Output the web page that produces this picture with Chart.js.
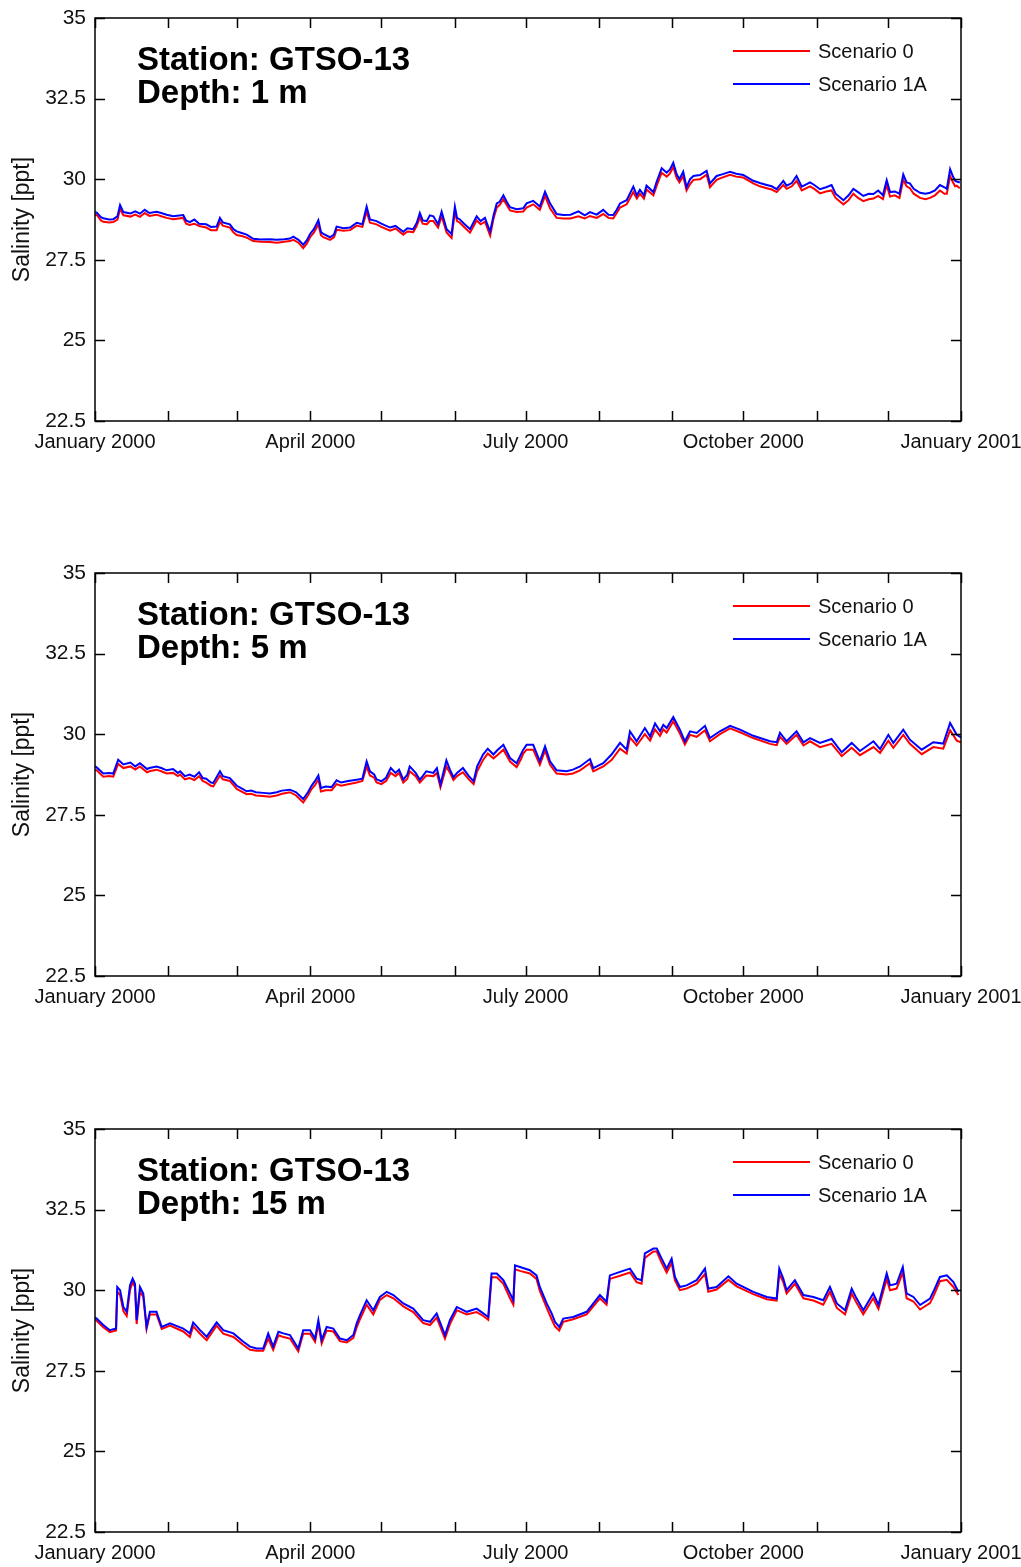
<!DOCTYPE html>
<html>
<head>
<meta charset="utf-8">
<script src="https://cdn.jsdelivr.net/npm/chart.js@4.4.1/dist/chart.umd.min.js"></script>
<style>
  body { margin: 0; background: #fff; }
  canvas.panel { position: absolute; left: 0; }
</style>
</head>
<body>
<canvas id="p1" class="panel" width="1021" height="555" style="top:0px"></canvas>
<canvas id="p2" class="panel" width="1021" height="555" style="top:555px"></canvas>
<canvas id="p3" class="panel" width="1021" height="456" style="top:1111px"></canvas>
<script>
// day of year 2000 (0 = Jan 1) and salinity [ppt]

// --- Depth 1 m ---
const days1m = [0, 0.7, 2.5, 3.5, 6, 7.7, 9.5, 10.6, 12, 15, 17, 19, 21, 23, 26, 28, 30.3, 33, 37.3, 38.5,
  40, 42, 44, 47, 49, 51.4, 52.8, 54, 57, 58.5, 59.9, 62, 64.1, 66.9, 70, 73.9, 76.8, 80, 82.4, 83.8,
  86, 88, 89.5, 90.9, 92.5, 94.4, 95.5, 96.5, 99.3, 101, 102.1, 105, 107.8, 110.6, 113, 114.8, 116.2, 119, 121, 124.7,
  127, 130.3, 132, 134.5, 136, 137.3, 138.5, 140.2, 141.5, 143, 145, 146.5, 148.6, 150.7, 152.1, 153, 154.2, 156, 158.5, 161.3,
  163, 164.8, 167, 168.5, 169.8, 171, 172.6, 174, 175.4, 178.2, 181, 182.4, 185.2, 188, 190.2, 192.3, 195.1, 197.9, 201, 204.3,
  207, 209.2, 212, 214.8, 217, 219, 220.5, 221.9, 224.7, 227.5, 229, 230.3, 232, 233.1, 236, 237.4, 239.5, 241.6, 243, 244.4,
  245.8, 247, 248.6, 250, 251.5, 252.9, 255.7, 258.5, 259.9, 262.7, 265, 268.4, 271, 274, 278.2, 281, 283.9, 286, 288.1, 290.9,
  292.3, 294.5, 296.5, 298.7, 302.2, 304, 306.4, 309, 311.3, 313, 316.3, 318.5, 320.5, 322.5, 324.7, 327, 329, 331, 333, 334.6,
  336, 338, 340, 341.6, 343, 344.4, 346, 348.7, 351, 352.9, 355, 357.1, 359, 360, 361.4, 362.5, 363.5, 364.2, 365.5];
const s0_1m = [28.88, 28.9, 28.72, 28.68, 28.66, 28.67, 28.75, 29.08, 28.88, 28.84, 28.9, 28.83, 28.95, 28.86, 28.9, 28.85, 28.8, 28.76, 28.8, 28.62,
  28.58, 28.62, 28.55, 28.5, 28.42, 28.42, 28.68, 28.56, 28.5, 28.35, 28.27, 28.24, 28.19, 28.08, 28.06, 28.05, 28.03, 28.06, 28.08, 28.12,
  28.03, 27.86, 28.0, 28.2, 28.34, 28.6, 28.26, 28.2, 28.12, 28.2, 28.43, 28.4, 28.42, 28.56, 28.52, 29.0, 28.65, 28.6, 28.52, 28.4,
  28.47, 28.28, 28.38, 28.36, 28.55, 28.82, 28.62, 28.6, 28.7, 28.7, 28.5, 28.85, 28.35, 28.18, 29.0, 28.7, 28.65, 28.52, 28.34, 28.72,
  28.6, 28.68, 28.25, 28.8, 29.12, 29.2, 29.38, 29.2, 29.03, 28.98, 29.0, 29.12, 29.22, 29.05, 29.48, 29.1, 28.8, 28.78, 28.78, 28.85,
  28.78, 28.86, 28.8, 28.92, 28.8, 28.78, 28.95, 29.12, 29.22, 29.6, 29.4, 29.55, 29.4, 29.68, 29.5, 29.8, 30.2, 30.08, 30.18, 30.38,
  30.04, 29.9, 30.1, 29.65, 29.85, 29.98, 30.0, 30.14, 29.75, 29.98, 30.05, 30.14, 30.08, 30.05, 29.87, 29.78, 29.72, 29.68, 29.6, 29.82,
  29.7, 29.78, 29.95, 29.65, 29.78, 29.7, 29.56, 29.62, 29.65, 29.42, 29.22, 29.35, 29.55, 29.42, 29.32, 29.38, 29.4, 29.48, 29.38, 29.82,
  29.46, 29.5, 29.42, 29.98, 29.78, 29.72, 29.55, 29.42, 29.38, 29.42, 29.5, 29.65, 29.55, 29.55, 30.1, 29.92, 29.78, 29.8, 29.72];
const s1a_1m = [28.97, 28.97, 28.82, 28.79, 28.75, 28.76, 28.85, 29.2, 28.98, 28.94, 29.0, 28.93, 29.05, 28.95, 28.99, 28.95, 28.9, 28.85, 28.89, 28.72,
  28.67, 28.75, 28.62, 28.6, 28.52, 28.53, 28.8, 28.66, 28.6, 28.45, 28.38, 28.33, 28.28, 28.15, 28.13, 28.14, 28.12, 28.14, 28.16, 28.22,
  28.12, 27.97, 28.1, 28.3, 28.45, 28.73, 28.36, 28.3, 28.2, 28.28, 28.53, 28.48, 28.5, 28.65, 28.6, 29.15, 28.75, 28.7, 28.62, 28.5,
  28.55, 28.37, 28.48, 28.45, 28.65, 28.95, 28.72, 28.7, 28.88, 28.85, 28.6, 28.99, 28.45, 28.3, 29.15, 28.8, 28.75, 28.62, 28.45, 28.85,
  28.7, 28.8, 28.37, 28.9, 29.25, 29.3, 29.5, 29.3, 29.13, 29.07, 29.1, 29.25, 29.33, 29.15, 29.61, 29.25, 28.92, 28.89, 28.9, 29.0,
  28.88, 28.98, 28.9, 29.05, 28.9, 28.89, 29.05, 29.25, 29.35, 29.77, 29.5, 29.67, 29.5, 29.8, 29.6, 29.93, 30.34, 30.2, 30.3, 30.51,
  30.16, 30.0, 30.23, 29.75, 30.0, 30.1, 30.13, 30.26, 29.87, 30.1, 30.15, 30.23, 30.17, 30.13, 29.95, 29.88, 29.82, 29.78, 29.69, 29.95,
  29.8, 29.88, 30.1, 29.77, 29.9, 29.82, 29.69, 29.75, 29.82, 29.55, 29.35, 29.5, 29.7, 29.6, 29.48, 29.55, 29.54, 29.65, 29.5, 29.97,
  29.6, 29.62, 29.55, 30.15, 29.9, 29.87, 29.7, 29.58, 29.55, 29.58, 29.65, 29.82, 29.75, 29.7, 30.31, 30.1, 29.95, 29.93, 29.9];

// --- Depth 5 m ---
const days5m = [0, 0.7, 3.5, 6, 7.7, 9.8, 12, 15, 17, 19, 22, 23, 26, 28, 30.3, 33, 35, 36, 38, 40,
  42, 44, 45.5, 47, 49, 50, 52.8, 54, 57, 59.9, 61, 64.1, 66, 68, 71, 73.9, 76.8, 79, 82.4, 85,
  88, 90, 91.5, 93, 94.4, 95.5, 97.5, 100, 102.1, 104, 107, 110.6, 113, 114.8, 116.2, 118, 119, 121, 123, 125,
  127, 128.5, 130.3, 132, 133, 135.5, 137.3, 138.5, 140, 143, 144.5, 146, 148.5, 150, 151.5, 153, 155.5, 158, 160, 161.5,
  164, 166, 168.4, 170, 172.6, 175.4, 178.2, 180, 181, 182.4, 185.2, 188, 190.2, 192.3, 195.1, 199.3, 202, 205, 209.2, 210.6,
  214.8, 218.3, 221.9, 224.7, 226.1, 228.9, 232.4, 234.6, 236.7, 238.8, 240.2, 241.6, 244.4, 247.2, 249.3, 251.5, 254.3, 257.8, 259.9, 264.1,
  268.4, 272.6, 278.2, 285.3, 288.1, 289.5, 292.3, 296.5, 299.4, 302.2, 306.4, 311.3, 315.6, 319.8, 323.3, 329, 331.8, 335.3, 337.4, 341.6,
  344.4, 349.4, 354.3, 358.5, 361.4, 364.2, 366];
const s0_5m = [28.9, 28.88, 28.68, 28.7, 28.68, 29.08, 28.95, 29.0, 28.9, 29.0, 28.82, 28.85, 28.9, 28.85, 28.78, 28.8, 28.7, 28.75, 28.6, 28.64,
  28.58, 28.7, 28.55, 28.5, 28.4, 28.38, 28.72, 28.6, 28.55, 28.3, 28.26, 28.14, 28.15, 28.1, 28.08, 28.06, 28.1, 28.15, 28.2, 28.1,
  27.88, 28.1, 28.3, 28.42, 28.6, 28.22, 28.26, 28.26, 28.45, 28.4, 28.45, 28.5, 28.55, 29.0, 28.72, 28.65, 28.5, 28.45, 28.55, 28.8,
  28.7, 28.8, 28.5, 28.62, 28.85, 28.7, 28.5, 28.6, 28.72, 28.7, 28.8, 28.35, 29.0, 28.8, 28.58, 28.7, 28.82, 28.6, 28.45, 28.85,
  29.2, 29.4, 29.25, 29.35, 29.52, 29.15, 28.98, 29.22, 29.4, 29.52, 29.52, 29.05, 29.5, 29.05, 28.78, 28.75, 28.78, 28.88, 29.1, 28.85,
  29.0, 29.2, 29.55, 29.4, 29.9, 29.65, 30.0, 29.8, 30.15, 29.95, 30.15, 30.05, 30.4, 30.02, 29.68, 29.98, 29.92, 30.12, 29.78, 30.0,
  30.18, 30.06, 29.88, 29.7, 29.66, 29.92, 29.7, 29.98, 29.65, 29.78, 29.6, 29.7, 29.32, 29.58, 29.35, 29.6, 29.42, 29.8, 29.58, 29.98,
  29.7, 29.38, 29.6, 29.55, 30.12, 29.8, 29.75];
const s1a_5m = [29.0, 28.97, 28.78, 28.8, 28.78, 29.21, 29.06, 29.12, 29.0, 29.1, 28.92, 28.95, 29.0, 28.95, 28.88, 28.92, 28.8, 28.85, 28.7, 28.75,
  28.68, 28.82, 28.64, 28.62, 28.5, 28.49, 28.85, 28.7, 28.64, 28.4, 28.36, 28.23, 28.25, 28.2, 28.18, 28.16, 28.2, 28.25, 28.28, 28.2,
  27.99, 28.2, 28.4, 28.55, 28.72, 28.33, 28.38, 28.36, 28.57, 28.5, 28.55, 28.59, 28.62, 29.16, 28.85, 28.75, 28.6, 28.54, 28.65, 28.95,
  28.8, 28.9, 28.59, 28.75, 29.0, 28.8, 28.59, 28.7, 28.85, 28.8, 28.95, 28.44, 29.19, 28.9, 28.67, 28.8, 28.95, 28.7, 28.54, 29.0,
  29.37, 29.55, 29.37, 29.5, 29.67, 29.26, 29.1, 29.37, 29.52, 29.67, 29.67, 29.16, 29.62, 29.16, 28.88, 28.85, 28.9, 29.0, 29.23, 28.95,
  29.1, 29.37, 29.73, 29.52, 30.09, 29.78, 30.19, 29.93, 30.33, 30.09, 30.29, 30.19, 30.53, 30.14, 29.78, 30.09, 30.04, 30.26, 29.88, 30.09,
  30.26, 30.14, 29.95, 29.78, 29.75, 30.04, 29.78, 30.09, 29.75, 29.88, 29.73, 29.85, 29.44, 29.73, 29.48, 29.78, 29.54, 29.98, 29.73, 30.14,
  29.83, 29.52, 29.75, 29.71, 30.35, 29.98, 29.9];

// --- Depth 15 m ---
const days15m = [0, 0.7, 3.5, 6.3, 8.9, 9.4, 10.6, 12, 13.4, 14.8, 15.9, 16.9, 17.6, 19, 20.4, 21.8, 23.2, 26, 28.2, 31.7,
  37.3, 40.1, 41.5, 44.4, 47.2, 51.4, 54.2, 58.5, 62.7, 65.5, 68.3, 71.1, 73.2, 75.3, 77.5, 79.6, 82.4, 85.9, 88, 90.9,
  93, 94.4, 95.8, 97.9, 100.7, 103.5, 106.4, 109.2, 110.6, 112, 114.8, 117.6, 120.4, 123.3, 126.1, 130.3, 134.5, 138.7, 141.6, 144.4,
  147.9, 150, 152.9, 157.1, 161.3, 164.1, 166.2, 167.6, 169.8, 172.6, 175.4, 176.8, 177.5, 179.6, 183.8, 186.6, 188, 190.9, 193, 194.4,
  196.2, 197.9, 202.1, 207.8, 213.4, 216.2, 217.6, 221.9, 226.1, 228.9, 231, 232.4, 236, 237.4, 239.5, 241.6, 243.7, 245.1, 247.2, 250,
  254.3, 257.8, 259.2, 262.7, 267.7, 271.2, 278.2, 283.9, 288.1, 289.2, 290.9, 292.3, 295.8, 299.4, 303.6, 307.8, 310.6, 313.5, 317, 319.8,
  321.9, 324.7, 328.9, 331.1, 334.6, 336, 338.8, 341.4, 343, 345.9, 348.7, 352.9, 354.3, 357.1, 360, 362.8, 364.9];
const s0_15m = [29.1, 29.05, 28.85, 28.7, 28.75, 29.95, 29.85, 29.35, 29.2, 30.0, 30.25, 30.1, 28.95, 29.95, 29.8, 28.8, 29.25, 29.25, 28.8, 28.9,
  28.72, 28.55, 28.88, 28.65, 28.45, 28.9, 28.65, 28.55, 28.3, 28.15, 28.12, 28.12, 28.5, 28.15, 28.6, 28.55, 28.5, 28.1, 28.65, 28.65,
  28.4, 28.95, 28.35, 28.75, 28.72, 28.42, 28.38, 28.52, 28.85, 29.1, 29.55, 29.25, 29.7, 29.85, 29.75, 29.5, 29.32, 28.98, 28.92, 29.15,
  28.5, 28.95, 29.38, 29.25, 29.32, 29.2, 29.08, 30.4, 30.4, 30.2, 29.75, 29.55, 30.65, 30.6, 30.52, 30.35, 29.98, 29.45, 29.1, 28.88,
  28.75, 29.02, 29.1, 29.25, 29.75, 29.55, 30.35, 30.45, 30.55, 30.25, 30.2, 31.0, 31.2, 31.2, 30.85, 30.55, 30.85, 30.3, 30.0, 30.05,
  30.2, 30.5, 29.95, 30.02, 30.32, 30.12, 29.88, 29.72, 29.68, 30.5, 30.25, 29.9, 30.2, 29.75, 29.68, 29.55, 29.95, 29.45, 29.25, 29.9,
  29.6, 29.25, 29.75, 29.42, 30.35, 30.0, 30.05, 30.55, 29.75, 29.65, 29.4, 29.6, 29.8, 30.28, 30.32, 30.1, 29.85];
const s1a_15m = [29.15, 29.12, 28.92, 28.76, 28.81, 30.1, 30.0, 29.48, 29.33, 30.15, 30.36, 30.2, 29.07, 30.1, 29.9, 28.86, 29.33, 29.33, 28.86, 28.97,
  28.81, 28.66, 29.0, 28.76, 28.56, 29.0, 28.76, 28.66, 28.4, 28.25, 28.19, 28.19, 28.66, 28.25, 28.71, 28.66, 28.61, 28.19, 28.76, 28.76,
  28.5, 29.07, 28.45, 28.86, 28.81, 28.5, 28.45, 28.61, 28.97, 29.23, 29.69, 29.38, 29.79, 29.95, 29.85, 29.59, 29.43, 29.07, 29.02, 29.28,
  28.61, 29.07, 29.48, 29.33, 29.43, 29.28, 29.17, 30.52, 30.52, 30.31, 29.9, 29.69, 30.77, 30.72, 30.62, 30.46, 30.1, 29.59, 29.28, 29.02,
  28.86, 29.12, 29.17, 29.33, 29.85, 29.64, 30.46, 30.57, 30.67, 30.36, 30.31, 31.14, 31.29, 31.29, 30.98, 30.67, 30.98, 30.41, 30.1, 30.15,
  30.31, 30.67, 30.05, 30.1, 30.43, 30.2, 29.95, 29.79, 29.74, 30.67, 30.36, 30.0, 30.31, 29.85, 29.79, 29.69, 30.1, 29.59, 29.38, 30.05,
  29.74, 29.38, 29.9, 29.54, 30.52, 30.15, 30.2, 30.72, 29.9, 29.79, 29.54, 29.74, 29.95, 30.41, 30.46, 30.25, 29.95];

// axis ticks
const monthStarts = [0, 31, 60, 91, 121, 152, 182, 213, 244, 274, 305, 335, 366];
const monthNames = { 0: 'January 2000', 91: 'April 2000', 182: 'July 2000', 274: 'October 2000', 366: 'January 2001' };
const yTicks = [22.5, 25, 27.5, 30, 32.5, 35];

const FONT = '"Liberation Sans", Arial, sans-serif';

// frame with inward ticks on all four sides, the station text and the legend
const framePlugin = {
  id: 'frame',
  afterDatasetsDraw(chart, args, opts) {
    const ctx = chart.ctx;
    const a = chart.chartArea;
    const x = chart.scales.x, y = chart.scales.y;
    ctx.save();
    ctx.strokeStyle = '#000';
    ctx.lineWidth = 1.5;
    ctx.strokeRect(a.left, a.top, a.right - a.left, a.bottom - a.top);
    ctx.beginPath();
    monthStarts.forEach(d => {
      const px = Math.round(x.getPixelForValue(d)) + 0.5;
      ctx.moveTo(px, a.bottom); ctx.lineTo(px, a.bottom - 10);
      ctx.moveTo(px, a.top); ctx.lineTo(px, a.top + 10);
    });
    yTicks.forEach(v => {
      const py = Math.round(y.getPixelForValue(v)) + 0.5;
      ctx.moveTo(a.left, py); ctx.lineTo(a.left + 10, py);
      ctx.moveTo(a.right, py); ctx.lineTo(a.right - 10, py);
    });
    ctx.stroke();

    ctx.fillStyle = '#000';
    ctx.font = 'bold 33px ' + FONT;
    ctx.textAlign = 'left';
    ctx.textBaseline = 'alphabetic';
    ctx.fillText(opts.station, 137, 70);
    ctx.fillText(opts.depth, 137, 103);

    ctx.font = '20px ' + FONT;
    ctx.textBaseline = 'middle';
    chart.data.datasets.forEach((ds, i) => {
      const ly = 51 + i * 33;
      ctx.strokeStyle = ds.borderColor;
      ctx.lineWidth = 2;
      ctx.beginPath();
      ctx.moveTo(733, ly); ctx.lineTo(810, ly);
      ctx.stroke();
      ctx.fillStyle = '#111';
      ctx.fillText(ds.label, 818, ly + 1);
    });
    ctx.restore();
  }
};

function pts(days, vals) {
  return days.map((d, i) => ({ x: d, y: vals[i] }));
}

function makeChart(id, days, s0, s1a, depthText) {
  new Chart(document.getElementById(id), {
    type: 'line',
    data: {
      datasets: [
        { label: 'Scenario 0', data: pts(days, s0), borderColor: '#ff0000', borderWidth: 2, pointRadius: 0, order: 2 },
        { label: 'Scenario 1A', data: pts(days, s1a), borderColor: '#0000ff', borderWidth: 2, pointRadius: 0, order: 1 }
      ]
    },
    options: {
      responsive: false,
      animation: false,
      layout: { padding: { left: 0, right: 60, top: 18, bottom: 0 } },
      plugins: {
        legend: { display: false },
        tooltip: { enabled: false },
        frame: { station: 'Station: GTSO-13', depth: depthText }
      },
      scales: {
        x: {
          type: 'linear', min: 0, max: 366,
          afterBuildTicks: s => { s.ticks = monthStarts.map(v => ({ value: v })); },
          afterFit: s => {
            s.height = s.chart.height - 18 - 403;
            s.paddingLeft = 0;
            s.paddingRight = 0;
          },
          grid: { display: false, drawTicks: false }, border: { display: false },
          ticks: {
            padding: 9, autoSkip: false, maxRotation: 0, color: '#111',
            font: { family: FONT, size: 20 },
            callback: v => monthNames[v] || ''
          }
        },
        y: {
          min: 22.5, max: 35,
          afterBuildTicks: s => { s.ticks = yTicks.map(v => ({ value: v })); },
          afterFit: s => {
            s.width = 95;
            s.paddingTop = 0;
            s.paddingBottom = 0;
          },
          grid: { display: false, drawTicks: false }, border: { display: false },
          ticks: { padding: 9, color: '#111', font: { family: FONT, size: 21 } },
          title: {
            display: true, text: 'Salinity [ppt]', color: '#111',
            font: { family: FONT, size: 23 }, padding: { top: 9, bottom: 0 }
          }
        }
      }
    },
    plugins: [framePlugin]
  });
}

makeChart('p1', days1m, s0_1m, s1a_1m, 'Depth: 1 m');
makeChart('p2', days5m, s0_5m, s1a_5m, 'Depth: 5 m');
makeChart('p3', days15m, s0_15m, s1a_15m, 'Depth: 15 m');
</script>
</body>
</html>
